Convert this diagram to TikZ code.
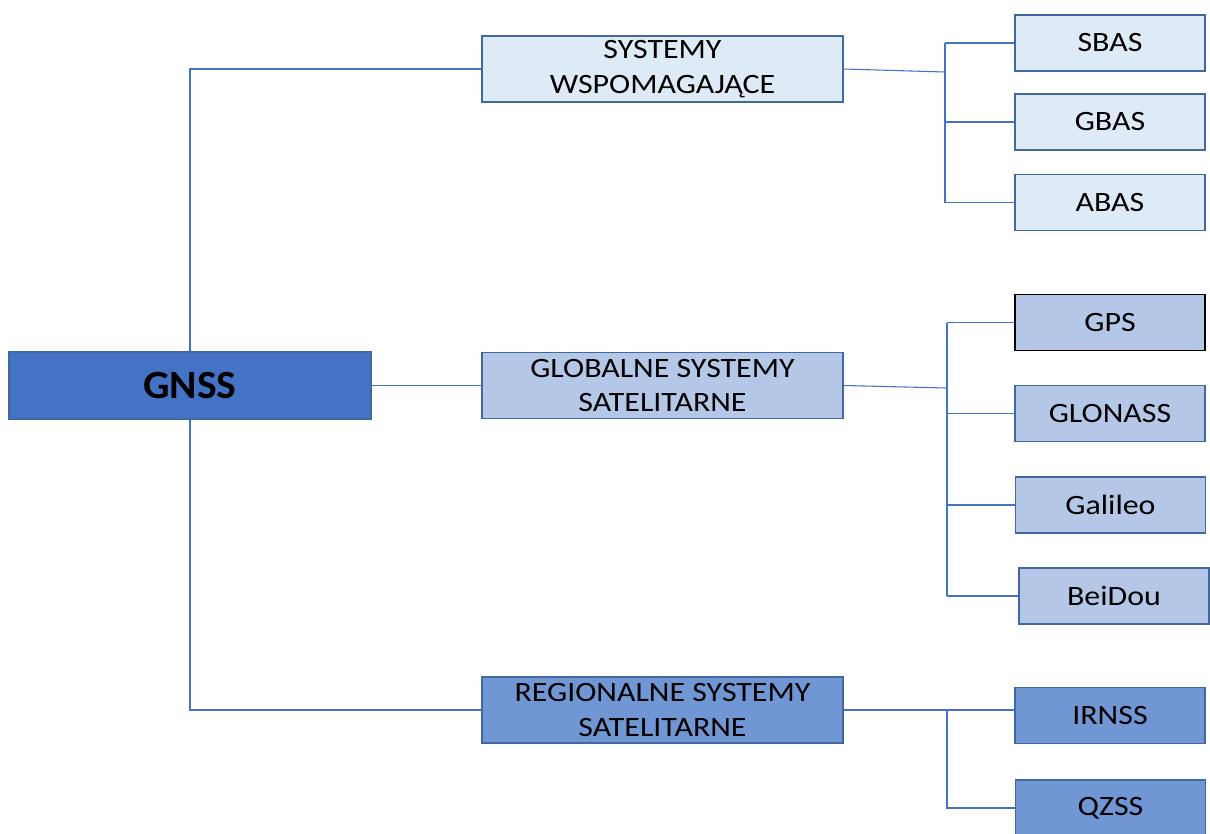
\documentclass[tikz,border=0pt]{standalone}
\usepackage{fontspec}
\setmainfont{Carlito}
\newfontfamily\widefont{Carlito}[FakeStretch=1.14]
\newfontfamily\rootfont{Carlito}[FakeStretch=1.04]
\definecolor{lineblue}{HTML}{4472C4}
\definecolor{edgeblue}{HTML}{41689F}
\definecolor{fillA}{HTML}{DEEBF7}
\definecolor{fillB}{HTML}{B4C7E7}
\definecolor{fillC}{HTML}{7096D3}
\definecolor{fillRoot}{HTML}{4472C4}
\tikzset{
  box/.style={draw=edgeblue, line width=0.8pt, inner sep=0pt, align=center, text=black},
  rootbox/.style={box, fill=fillRoot, minimum width=271.5pt, minimum height=50.25pt, font=\rootfont\fontsize{30}{34}\selectfont\bfseries},
  midbox/.style={box, minimum width=270.75pt, minimum height=49.5pt, font=\widefont\fontsize{21}{26}\selectfont},
  leafbox/.style={box, minimum width=142.5pt, minimum height=42pt, font=\widefont\fontsize{21}{24}\selectfont},
  conn/.style={draw=lineblue, line width=0.8pt}
}
\begin{document}
\begin{tikzpicture}[x=0.75pt,y=-0.75pt]
\useasboundingbox (0,0) rectangle (1210,833);
\begin{scope}
\clip (0,0) rectangle (1210,833);
% root
\node[rootbox] (gnss) at (190,385.5) {GNSS};
% middle level
\node[midbox, fill=fillA] (sys) at (662.5,69) {SYSTEMY\\WSPOMAGAJĄCE};
\node[midbox, fill=fillB] (glob) at (662.5,385.5) {GLOBALNE SYSTEMY\\SATELITARNE};
\node[midbox, fill=fillC] (reg) at (662.5,710) {REGIONALNE SYSTEMY\\SATELITARNE};
% leaves
\node[leafbox, fill=fillA] (sbas) at (1110,43) {SBAS};
\node[leafbox, fill=fillA] (gbas) at (1110,122) {GBAS};
\node[leafbox, fill=fillA] (abas) at (1110,202.5) {ABAS};
\node[leafbox, fill=fillB, draw=black] (gps) at (1110,322.5) {GPS};
\node[leafbox, fill=fillB] (glonass) at (1110,413.5) {GLONASS};
\node[leafbox, fill=fillB] (galileo) at (1110.5,505) {Galileo};
\node[leafbox, fill=fillB] (beidou) at (1114,596) {BeiDou};
\node[leafbox, fill=fillC] (irnss) at (1110,715.5) {IRNSS};
\node[leafbox, fill=fillC] (qzss) at (1110.5,808) {QZSS};
% root connectors
\draw[conn] (gnss.north) |- (sys.west);
\draw[conn] (gnss.east) -- (glob.west);
\draw[conn] (gnss.south) |- (reg.west);
% bracket 1
\coordinate (b1) at (945,72);
\draw[conn] (sys.east) -- (b1);
\draw[conn] (sbas.west -| b1) -- (abas.west -| b1);
\draw[conn] (sbas.west -| b1) -- (sbas.west);
\draw[conn] (gbas.west -| b1) -- (gbas.west);
\draw[conn] (abas.west -| b1) -- (abas.west);
% bracket 2
\coordinate (b2) at (947,388);
\draw[conn] (glob.east) -- (b2);
\draw[conn] (gps.west -| b2) -- (beidou.west -| b2);
\draw[conn] (gps.west -| b2) -- (gps.west);
\draw[conn] (glonass.west -| b2) -- (glonass.west);
\draw[conn] (galileo.west -| b2) -- (galileo.west);
\draw[conn] (beidou.west -| b2) -- (beidou.west);
% bracket 3
\coordinate (b3) at (947,710);
\draw[conn] (reg.east) -- (reg.east -| irnss.west);
\draw[conn] (b3) -- (qzss.west -| b3) -- (qzss.west);
\end{scope}
\end{tikzpicture}
\end{document}
